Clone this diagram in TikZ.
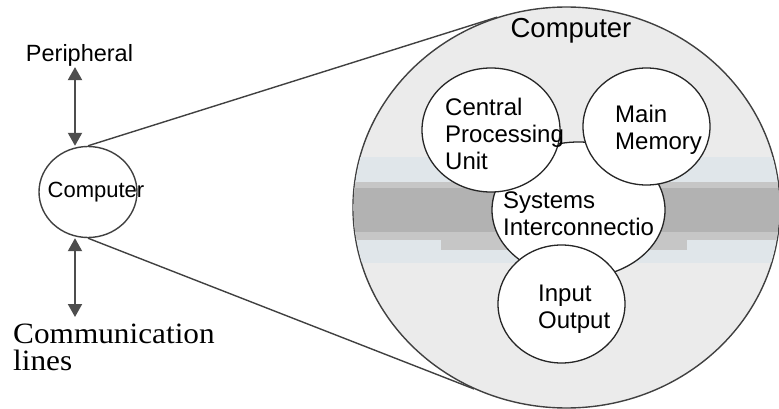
\documentclass[tikz,border=0pt]{standalone}
\usepackage{fontspec}
\setmainfont{Liberation Sans}
\newfontfamily\serifface[FakeStretch=1.06]{Liberation Serif}
\usetikzlibrary{arrows.meta, shapes.geometric}

\definecolor{linegray}{HTML}{404040}
\definecolor{arrowgray}{HTML}{4D4D4D}
\definecolor{paleblue}{HTML}{E0E6EA}

\begin{document}
\begin{tikzpicture}[
    x=1pt, y=-1pt,
    unit/.style={
        ellipse,
        draw=black!85,
        line width=1.3pt,
        fill=white,
        inner sep=0pt,
    },
    unitname/.style={
        anchor=north west,
        align=left,
        inner sep=0pt,
        font=\fontsize{24}{27}\selectfont,
    },
    biarrow/.style={
        draw=arrowgray,
        line width=2pt,
        {Triangle[width=14pt,length=13pt]}-{Triangle[width=14pt,length=13pt]},
    },
    zoomline/.style={
        draw=linegray,
        line width=1.4pt,
    }
]
    \useasboundingbox (0,0) rectangle (779,409);

    % Outer computer
    \node[ellipse, draw=linegray, line width=1.4pt, fill=gray!16, inner sep=0pt,
          minimum width=427pt, minimum height=401pt] (big) at (566.5,207.5) {};

    % Bus band
    \begin{scope}
        \clip (566.5,207.5) ellipse [x radius=212.8pt, y radius=199.8pt];
        \fill[paleblue] (340,157) rectangle (790,263);
        \fill[gray!45] (340,182) rectangle (790,240);
        \fill[gray!45] (441,182) rectangle (687,250);
        \fill[gray!60] (340,188) rectangle (790,232);
    \end{scope}

    % Parts
    \node[unit, minimum width=173pt, minimum height=136pt] (sys) at (578.5,210) {};
    \node[unit, minimum width=138pt, minimum height=124pt] (cpu) at (491,130) {};
    \node[unit, minimum width=127pt, minimum height=117pt] (mem) at (646.5,126.5) {};
    \node[unit, minimum width=127pt, minimum height=118pt] (io) at (561.5,304) {};

    % Part labels
    \node[font=\fontsize{27.5}{30}\selectfont, anchor=base] (bigname) at (571,38) {Computer};
    \node[unitname] (cpuname) at (445,97.5) {Central\\Processing\\Unit};
    \node[unitname] (memname) at (615,105) {Main\\Memory};
    \node[unitname] (sysname) at (503,192) {Systems\\Interconnectio};
    \node[unitname] (ioname) at (538,284.5) {Input\\Output};

    % Small computer
    \node[ellipse, draw=linegray, line width=1.4pt, inner sep=0pt,
          minimum width=98pt, minimum height=91pt] (comp) at (88,192) {};
    \node[font=\fontsize{22}{25}\selectfont] (compname) at (96,192) {Computer};

    % Zoom lines
    \draw[zoomline] (comp.north) -- (big.110);
    \draw[zoomline] (comp.south) -- (big.243);

    % Peripheral and lines
    \node[font=\fontsize{23.5}{26}\selectfont, anchor=base, inner sep=0pt] (periph) at (79.5,62) {Peripheral};
    \node[font=\serifface\fontsize{29.5}{27}\selectfont, anchor=north west, align=left,
          inner sep=0pt] (comm) at (13,323.5) {Communication\\lines};

    \draw[biarrow] ([xshift=-4.5pt]periph.south) -- ([xshift=-13pt]comp.north);
    \draw[biarrow] ([xshift=-13pt]comp.south) -- ([xshift=-13pt, yshift=6.5pt]comp.south |- comm.north);
\end{tikzpicture}
\end{document}
